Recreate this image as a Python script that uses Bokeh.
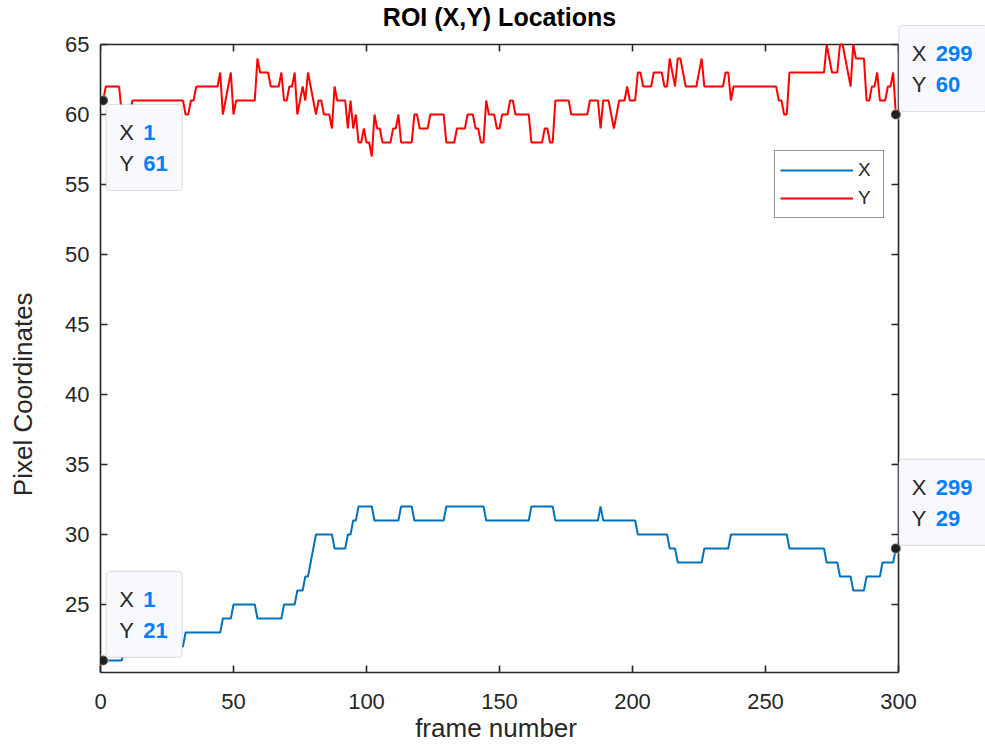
from bokeh.plotting import figure
from bokeh.models import (Range1d, LinearAxis, Label, BoxAnnotation, Legend,
                          LegendItem, FixedTicker)
from bokeh.embed import file_html
from bokeh.resources import INLINE

# ---------------- data ----------------
frames = list(range(1, 300))

x_coord = [
    21, 21, 21, 21, 21, 21, 21, 21, 22, 22,
    22, 22, 22, 22, 22, 22, 22, 22, 22, 22,
    22, 22, 22, 22, 22, 22, 22, 22, 22, 22,
    22, 23, 23, 23, 23, 23, 23, 23, 23, 23,
    23, 23, 23, 23, 23, 24, 24, 24, 24, 25,
    25, 25, 25, 25, 25, 25, 25, 25, 24, 24,
    24, 24, 24, 24, 24, 24, 24, 24, 25, 25,
    25, 25, 25, 26, 26, 26, 27, 27, 28, 29,
    30, 30, 30, 30, 30, 30, 30, 29, 29, 29,
    29, 29, 30, 30, 31, 31, 32, 32, 32, 32,
    32, 32, 31, 31, 31, 31, 31, 31, 31, 31,
    31, 31, 32, 32, 32, 32, 32, 31, 31, 31,
    31, 31, 31, 31, 31, 31, 31, 31, 31, 32,
    32, 32, 32, 32, 32, 32, 32, 32, 32, 32,
    32, 32, 32, 32, 31, 31, 31, 31, 31, 31,
    31, 31, 31, 31, 31, 31, 31, 31, 31, 31,
    31, 32, 32, 32, 32, 32, 32, 32, 32, 32,
    31, 31, 31, 31, 31, 31, 31, 31, 31, 31,
    31, 31, 31, 31, 31, 31, 31, 32, 31, 31,
    31, 31, 31, 31, 31, 31, 31, 31, 31, 31,
    31, 30, 30, 30, 30, 30, 30, 30, 30, 30,
    30, 30, 30, 29, 29, 29, 28, 28, 28, 28,
    28, 28, 28, 28, 28, 28, 29, 29, 29, 29,
    29, 29, 29, 29, 29, 29, 30, 30, 30, 30,
    30, 30, 30, 30, 30, 30, 30, 30, 30, 30,
    30, 30, 30, 30, 30, 30, 30, 30, 29, 29,
    29, 29, 29, 29, 29, 29, 29, 29, 29, 29,
    29, 29, 28, 28, 28, 28, 28, 27, 27, 27,
    27, 27, 26, 26, 26, 26, 26, 27, 27, 27,
    27, 27, 27, 28, 28, 28, 28, 28, 29,
]

y_coord = [
    61, 62, 62, 62, 62, 62, 62, 60, 60, 60,
    60, 61, 61, 61, 61, 61, 61, 61, 61, 61,
    61, 61, 61, 61, 61, 61, 61, 61, 61, 61,
    61, 60, 60, 61, 61, 62, 62, 62, 62, 62,
    62, 62, 62, 62, 63, 60, 61, 62, 63, 60,
    61, 61, 61, 61, 61, 61, 61, 61, 64, 63,
    63, 63, 63, 62, 62, 62, 62, 63, 61, 61,
    62, 62, 63, 60, 61, 62, 61, 63, 62, 61,
    60, 61, 61, 60, 60, 60, 59, 62, 61, 61,
    61, 61, 59, 61, 59, 60, 58, 58, 59, 58,
    58, 57, 60, 59, 59, 58, 58, 58, 58, 59,
    59, 60, 58, 58, 58, 58, 58, 60, 60, 59,
    59, 59, 59, 60, 60, 60, 60, 60, 60, 58,
    58, 58, 58, 59, 59, 59, 59, 60, 60, 60,
    59, 59, 58, 58, 61, 60, 60, 60, 59, 59,
    60, 60, 60, 61, 61, 60, 60, 60, 60, 60,
    60, 58, 58, 58, 58, 58, 59, 59, 58, 58,
    61, 61, 61, 61, 61, 61, 60, 60, 60, 60,
    60, 60, 60, 61, 61, 61, 61, 59, 61, 61,
    61, 60, 59, 60, 61, 61, 61, 62, 61, 61,
    61, 63, 63, 62, 62, 62, 62, 63, 63, 63,
    63, 62, 62, 64, 63, 62, 64, 64, 63, 62,
    62, 62, 62, 62, 63, 64, 62, 62, 62, 62,
    62, 62, 62, 62, 63, 63, 61, 62, 62, 62,
    62, 62, 62, 62, 62, 62, 62, 62, 62, 62,
    62, 62, 62, 62, 61, 61, 60, 60, 63, 63,
    63, 63, 63, 63, 63, 63, 63, 63, 63, 63,
    63, 63, 65, 64, 63, 63, 63, 65, 65, 64,
    63, 62, 65, 64, 64, 64, 64, 61, 61, 62,
    62, 63, 61, 61, 61, 62, 62, 63, 60,
]

series_names = ["X", "Y"]
x_ticks = [0, 50, 100, 150, 200, 250, 300]
y_ticks = [25, 30, 35, 40, 45, 50, 55, 60, 65]
title_text = "ROI (X,Y) Locations"
x_label = "frame number"
y_label = "Pixel Coordinates"

# ---------------- layout ----------------
W, H = 985, 749
FL, FR, FT, FB = 100, 898, 44, 672      # axes box in pixels
XMIN, XMAX = 0, 300
YMIN, YMAX = 20.14, 65

def dx(px):
    return px * (XMAX - XMIN) / (FR - FL)

def dy(px):
    return px * (YMAX - YMIN) / (FB - FT)

def sx2x(sx):
    return XMIN + (sx - FL) * (XMAX - XMIN) / (FR - FL)

def sy2y(sy):
    return YMAX - (sy - FT) * (YMAX - YMIN) / (FB - FT)

def x2sx(x):
    return FL + (x - XMIN) * (FR - FL) / (XMAX - XMIN)

def y2sy(y):
    return FT + (YMAX - y) * (FB - FT) / (YMAX - YMIN)

AX = "#262626"
FONT = "Liberation Sans"
BLUE = "#0072BD"
RED = "#FF0000"
TIPBLUE = "#0080FF"
TICK = 7
LW = 1.6
NBSP = "\u00a0"

# The plotting frame spans to the right and top edges of the canvas so that the
# title and the data tips outside the axes box are not clipped.
p = figure(width=W, height=H,
           x_range=Range1d(XMIN, sx2x(W)), y_range=Range1d(YMIN, sy2y(0)),
           output_backend="svg", toolbar_location=None,
           x_axis_location=None, y_axis_location=None,
           min_border_left=FL, min_border_right=0,
           min_border_top=0, min_border_bottom=H - FB)
p.outline_line_color = None
p.grid.visible = False
p.background_fill_color = "white"
p.border_fill_color = "white"

# axis labels are centred on the (wider) frame; pad them so they sit centred on the axes box
x_axis = LinearAxis(ticker=FixedTicker(ticks=x_ticks), bounds=(XMIN, XMAX),
                    axis_label=x_label + NBSP * 13)
y_axis = LinearAxis(ticker=FixedTicker(ticks=y_ticks), bounds=(YMIN, YMAX),
                    axis_label=y_label + NBSP * 16)
p.add_layout(x_axis, "below")
p.add_layout(y_axis, "left")

for ax in [x_axis, y_axis]:
    ax.major_tick_in = TICK
    ax.major_tick_out = 0
    ax.minor_tick_in = 0
    ax.minor_tick_out = 0
    ax.axis_line_color = AX
    ax.axis_line_width = LW
    ax.major_tick_line_color = AX
    ax.major_tick_line_width = LW
    ax.major_label_text_font = FONT
    ax.major_label_text_font_size = "22px"
    ax.major_label_text_color = AX
    ax.axis_label_text_font = FONT
    ax.axis_label_text_font_size = "26px"
    ax.axis_label_text_font_style = "normal"
    ax.axis_label_text_color = AX

x_axis.major_label_standoff = 21
x_axis.axis_label_standoff = 1
y_axis.major_label_standoff = 11
y_axis.axis_label_standoff = 24

# top and right edges of the axes box, with inward ticks
p.segment(x0=[XMIN], y0=[YMAX], x1=[XMAX], y1=[YMAX], line_color=AX, line_width=LW)
p.segment(x0=[XMAX], y0=[YMIN], x1=[XMAX], y1=[YMAX], line_color=AX, line_width=LW)
p.segment(x0=x_ticks, y0=[YMAX] * len(x_ticks), x1=x_ticks,
          y1=[YMAX - dy(TICK)] * len(x_ticks), line_color=AX, line_width=LW)
p.segment(x0=[XMAX] * len(y_ticks), y0=y_ticks, x1=[XMAX - dx(TICK)] * len(y_ticks),
          y1=y_ticks, line_color=AX, line_width=LW)

rx = p.line(frames, x_coord, line_color=BLUE, line_width=2)
ry = p.line(frames, y_coord, line_color=RED, line_width=2)

legend = Legend(items=[LegendItem(label=series_names[0], renderers=[rx]),
                       LegendItem(label=series_names[1], renderers=[ry])],
                location=(774 - FL, FB - 218))
legend.border_line_color = AX
legend.border_line_width = 1
legend.background_fill_color = "white"
legend.background_fill_alpha = 1
legend.glyph_width = 73
legend.glyph_height = 28
legend.label_height = 28
legend.label_width = 20
legend.spacing = 0
legend.padding = 5
legend.margin = 0
legend.label_standoff = 5
legend.label_text_font = FONT
legend.label_text_font_size = "19px"
legend.label_text_color = AX
p.add_layout(legend)

# title
p.add_layout(Label(x=(XMIN + XMAX) / 2, y=sy2y(16.5), text=title_text,
                   text_font=FONT, text_font_size="25px", text_font_style="bold",
                   text_align="center", text_baseline="middle", text_color="black"))

# data tips: (series values, index, box above point?)
tips = [(y_coord, 0, False), (x_coord, 0, True), (y_coord, -1, True), (x_coord, -1, True)]
for vals, idx, above in tips:
    fx = frames[idx]
    fy = vals[idx]
    sx, sy = x2sx(fx), y2sy(fy)
    xs, ys = str(fx), str(fy)
    bw = 37 + 12.5 * max(len(xs), len(ys)) + 14
    bl = sx + 3
    bt = sy + 4 if not above else sy - 89
    box = BoxAnnotation(left=sx2x(bl), right=sx2x(bl + bw), top=sy2y(bt), bottom=sy2y(bt + 86),
                        fill_color="#F8F8FF", fill_alpha=1, line_color="#A0A0A0",
                        line_width=1.2, border_radius=4)
    p.add_layout(box)
    for row, (name, txt) in enumerate([("X", xs), ("Y", ys)]):
        ry_s = bt + 28 + 31 * row
        p.add_layout(Label(x=sx2x(bl + 13), y=sy2y(ry_s), text=name, text_font=FONT,
                           text_font_size="22px", text_color=AX,
                           text_align="left", text_baseline="middle"))
        p.add_layout(Label(x=sx2x(bl + 37), y=sy2y(ry_s), text=txt, text_font=FONT,
                           text_font_size="22px", text_font_style="bold", text_color=TIPBLUE,
                           text_align="left", text_baseline="middle"))
    r = 5
    dot = BoxAnnotation(left=sx2x(sx - r), right=sx2x(sx + r), top=sy2y(sy - r), bottom=sy2y(sy + r),
                        fill_color="#202020", fill_alpha=1, line_color="#FFFFD0",
                        line_width=2, border_radius=r)
    p.add_layout(dot)

open("out.html", "w").write(file_html(p, INLINE))
